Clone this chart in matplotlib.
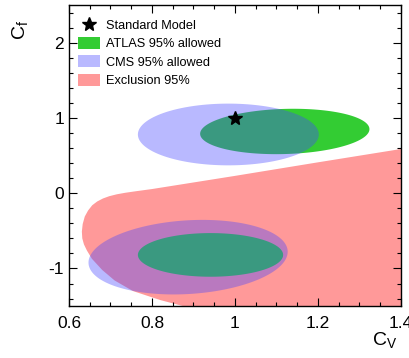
import matplotlib
matplotlib.use("Agg")
import matplotlib.pyplot as plt
from matplotlib.patches import Patch
from matplotlib.lines import Line2D
from matplotlib.ticker import MultipleLocator
import numpy as np

plt.rcParams['font.family'] = ['Liberation Sans', 'DejaVu Sans']
plt.rcParams['mathtext.fontset'] = 'custom'
plt.rcParams['mathtext.rm'] = 'Liberation Sans'
plt.rcParams['mathtext.it'] = 'Liberation Sans:italic'

# standard model point
sm_cv = [1.0]
sm_cf = [1.0]

# ATLAS 95% allowed regions: centre cv, centre cf, half width, half height, tilt
atlas_cx = [1.12, 0.941]
atlas_cy = [0.82, -0.82]
atlas_a = [0.204, 0.175]
atlas_b = [0.30, 0.29]
atlas_tilt = [0.15, 0.0]

# CMS 95% allowed regions
cms_cx = [0.984, 0.887]
cms_cy = [0.78, -0.85]
cms_a = [0.218, 0.240]
cms_b = [0.41, 0.49]
cms_tilt = [0.0, 0.30]

# exclusion region boundary
excl_cv = [1.45, 1.40, 1.20, 1.00, 0.80, 0.76, 0.735, 0.715, 0.697, 0.682, 0.668,
           0.656, 0.646, 0.638, 0.633, 0.631, 0.632, 0.636, 0.643, 0.655, 0.68, 0.71,
           0.754, 0.82, 0.875, 0.90, 1.45]
excl_cf = [0.63, 0.587, 0.41, 0.23, 0.055, 0.025, 0.005, -0.015, -0.04, -0.07, -0.11,
           -0.16, -0.23, -0.31, -0.41, -0.51, -0.60, -0.68, -0.76, -0.87, -1.02, -1.16,
           -1.30, -1.42, -1.50, -1.60, -1.60]

green = '#33cc33'
pink = '#ff9999'
cms_col = (0.28, 0.28, 1.0, 0.38)


def ellipse_xy(cx, cy, a, b, tilt):
    t = np.linspace(0, 2 * np.pi, 200)
    x = cx + a * np.cos(t)
    y = cy + b * np.sin(t) + tilt * (x - cx)
    return x, y


fig = plt.figure(figsize=(4.09, 3.58), dpi=100)
ax = fig.add_axes([0.1687, 0.145, 0.9804 - 0.1687, 0.986 - 0.145])

ax.fill(excl_cv, excl_cf, color=pink, lw=0, zorder=1)
for i in range(len(atlas_cx)):
    x, y = ellipse_xy(atlas_cx[i], atlas_cy[i], atlas_a[i], atlas_b[i], atlas_tilt[i])
    ax.fill(x, y, color=green, lw=0, zorder=2)
for i in range(len(cms_cx)):
    x, y = ellipse_xy(cms_cx[i], cms_cy[i], cms_a[i], cms_b[i], cms_tilt[i])
    ax.fill(x, y, color=cms_col, lw=0, zorder=3)
ax.plot(sm_cv, sm_cf, marker='*', color='black', ms=10, ls='none', zorder=5)

ax.set_xlim(0.6, 1.4)
ax.set_ylim(-1.5, 2.5)
ax.xaxis.set_minor_locator(MultipleLocator(0.05))
ax.yaxis.set_minor_locator(MultipleLocator(0.2))
ax.set_xticks([0.6, 0.8, 1.0, 1.2, 1.4])
ax.set_xticklabels(['0.6', '0.8', '1', '1.2', '1.4'])
ax.set_yticks([-1, 0, 1, 2])
ax.set_yticklabels(['-1', '0', '1', '2'])
ax.tick_params(which='both', direction='in', top=True, right=True, labelsize=12.5)
ax.tick_params(which='major', length=6, width=0.8)
ax.tick_params(which='minor', length=3, width=0.8)
ax.tick_params(axis='x', pad=7)
for s in ax.spines.values():
    s.set_linewidth(1.0)

fig.text(385 / 409, 1 - 340 / 358, r'$\mathrm{C_V}$', fontsize=14, ha='center', va='center')
fig.text(20 / 409, 1 - 30 / 358, r'$\mathrm{C_f}$', fontsize=14, ha='center', va='center', rotation=90)

handles = [
    Line2D([], [], marker='*', color='black', ms=10, ls='none'),
    Patch(facecolor=green, edgecolor='none'),
    Patch(facecolor=cms_col, edgecolor='none'),
    Patch(facecolor=pink, edgecolor='none'),
]
labels = ['Standard Model', 'ATLAS 95% allowed', 'CMS 95% allowed', 'Exclusion 95%']
ax.legend(handles, labels, loc='upper left', bbox_to_anchor=(0.0, 0.985), frameon=False,
          fontsize=9.2, handlelength=1.75, handleheight=1.05, labelspacing=0.4, handletextpad=0.45,
          borderaxespad=0.3)

fig.savefig('out.png', dpi=100)
